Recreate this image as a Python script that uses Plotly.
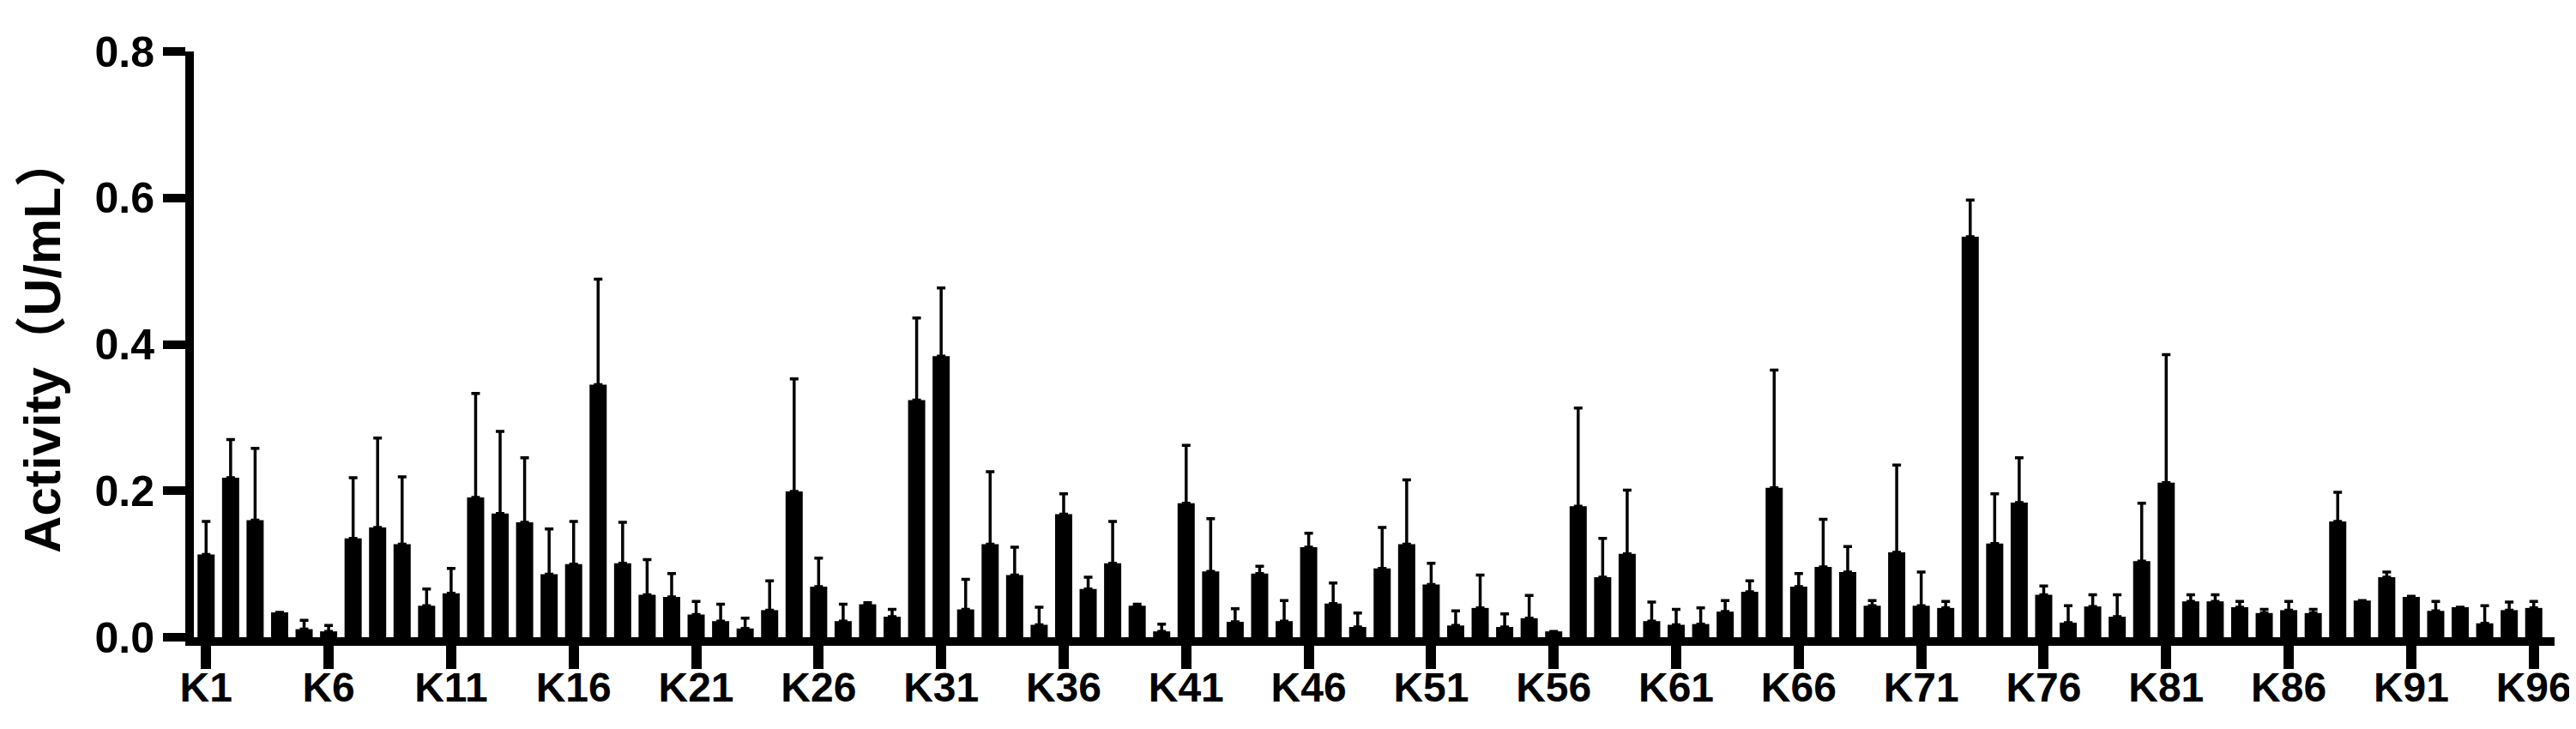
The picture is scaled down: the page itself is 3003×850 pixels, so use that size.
import plotly.graph_objects as go

strains = [f"K{i}" for i in range(1, 97)]

activity = [
    0.113, 0.218, 0.160, 0.034, 0.011, 0.008, 0.135, 0.150, 0.127, 0.043,
    0.060, 0.191, 0.169, 0.157, 0.086, 0.100, 0.345, 0.101, 0.058, 0.055,
    0.031, 0.022, 0.012, 0.037, 0.199, 0.069, 0.022, 0.045, 0.028, 0.324,
    0.384, 0.038, 0.127, 0.085, 0.017, 0.168, 0.066, 0.101, 0.043, 0.008,
    0.183, 0.090, 0.021, 0.087, 0.022, 0.123, 0.046, 0.014, 0.094, 0.127,
    0.072, 0.016, 0.040, 0.014, 0.026, 0.008, 0.179, 0.082, 0.114, 0.022,
    0.017, 0.018, 0.035, 0.062, 0.204, 0.069, 0.096, 0.089, 0.043, 0.116,
    0.043, 0.040, 0.547, 0.128, 0.184, 0.058, 0.020, 0.042, 0.028, 0.104,
    0.211, 0.049, 0.049, 0.041, 0.033, 0.037, 0.033, 0.158, 0.050, 0.082,
    0.055, 0.036, 0.041, 0.019, 0.037, 0.040,
]

sd = [
    0.045, 0.052, 0.098, 0.000, 0.012, 0.008, 0.083, 0.122, 0.092, 0.023,
    0.034, 0.142, 0.112, 0.088, 0.062, 0.058, 0.144, 0.056, 0.048, 0.032,
    0.018, 0.023, 0.014, 0.040, 0.154, 0.039, 0.023, 0.002, 0.010, 0.112,
    0.093, 0.041, 0.099, 0.038, 0.024, 0.028, 0.016, 0.057, 0.002, 0.010,
    0.079, 0.072, 0.018, 0.010, 0.028, 0.019, 0.028, 0.019, 0.056, 0.088,
    0.029, 0.020, 0.045, 0.018, 0.031, 0.000, 0.134, 0.053, 0.087, 0.026,
    0.021, 0.022, 0.015, 0.015, 0.161, 0.018, 0.065, 0.035, 0.007, 0.119,
    0.046, 0.009, 0.050, 0.068, 0.061, 0.012, 0.023, 0.016, 0.030, 0.079,
    0.175, 0.009, 0.009, 0.008, 0.005, 0.012, 0.005, 0.040, 0.000, 0.007,
    0.001, 0.013, 0.000, 0.024, 0.011, 0.009,
]

# only every fifth strain gets a tick label
labelled = strains[::5]

y_ticks = [0.0, 0.2, 0.4, 0.6, 0.8]

FONT = "Arial, Liberation Sans, Noto Sans CJK SC, sans-serif"

fig = go.Figure()

fig.add_trace(go.Bar(
    x=strains,
    y=activity,
    marker=dict(color="black", line=dict(width=0)),
    error_y=dict(
        type="data",
        symmetric=False,
        array=sd,
        arrayminus=[0] * len(sd),
        color="black",
        thickness=3.5,
        width=5,
    ),
))

fig.update_layout(
    width=3003,
    height=850,
    margin=dict(l=218, r=33, t=52, b=115),
    plot_bgcolor="white",
    paper_bgcolor="white",
    bargap=0.3,
    showlegend=False,
    font=dict(family=FONT, size=46, color="black", weight="bold"),
    xaxis=dict(
        type="category",
        range=[-0.5, 95.85],
        automargin=False,
        tickmode="array",
        tickvals=labelled,
        ticktext=labelled,
        ticks="outside",
        ticklen=27,
        tickwidth=12,
        tickcolor="black",
        ticklabelstandoff=-20,
        showline=True,
        linewidth=10,
        linecolor="black",
        showgrid=False,
        zeroline=False,
        tickfont=dict(family=FONT, size=48, color="black", weight="bold"),
    ),
    yaxis=dict(
        range=[0, 0.8],
        automargin=False,
        tickmode="array",
        tickvals=y_ticks,
        ticktext=[f"{v:.1f}" for v in y_ticks],
        ticks="outside",
        ticklen=26,
        tickwidth=10,
        tickcolor="black",
        showline=True,
        linewidth=10,
        linecolor="black",
        showgrid=False,
        zeroline=False,
        tickfont=dict(family=FONT, size=50, color="black", weight="bold"),
        title=dict(
            text="Activity（U/mL）",
            font=dict(family=FONT, size=60, color="black", weight="bold"),
            standoff=24,
        ),
    ),
)

fig.write_html("out.html")
